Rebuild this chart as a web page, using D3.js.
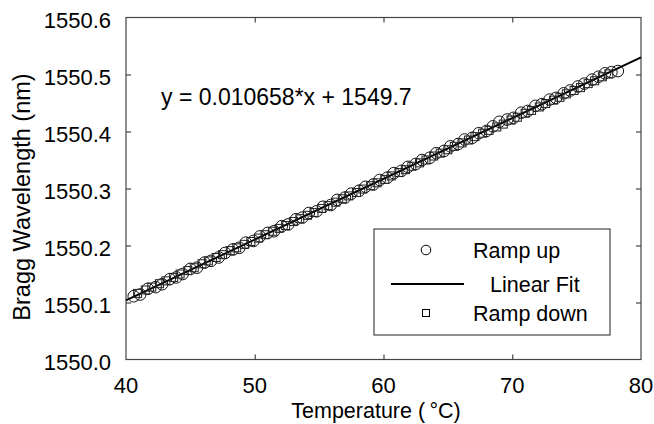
<!DOCTYPE html>
<html>
<head>
<meta charset="utf-8">
<script src="https://cdn.jsdelivr.net/npm/d3@7"></script>
<style>
  body { margin: 0; background: #fff; }
  svg { font-family: "Liberation Sans", Arial, sans-serif; }
</style>
</head>
<body>
<div id="chart"></div>
<script>
// Ramp up (circles)
var upTemp = [40.6, 41.1, 41.7, 42.3, 42.8, 43.4, 43.9, 44.4, 45.0, 45.5, 46.1, 46.6, 47.2, 47.7, 48.3, 48.8,
  49.3, 49.9, 50.4, 51.0, 51.5, 52.1, 52.6, 53.2, 53.7, 54.2, 54.8, 55.3, 55.9, 56.4, 57.0, 57.5, 58.1, 58.6,
  59.2, 59.7, 60.3, 60.8, 61.4, 61.9, 62.5, 63.0, 63.6, 64.1, 64.7, 65.2, 65.8, 66.3, 66.9, 67.4, 68.0, 68.5,
  69.0, 69.6, 70.1, 70.7, 71.2, 71.8, 72.3, 72.9, 73.4, 74.0, 74.5, 75.1, 75.6, 76.2, 76.7, 77.2, 77.7, 78.2];
var upWave = [1550.111, 1550.114, 1550.124, 1550.127, 1550.132, 1550.141, 1550.144, 1550.150, 1550.159, 1550.161,
  1550.170, 1550.173, 1550.179, 1550.187, 1550.193, 1550.196, 1550.205, 1550.208, 1550.216, 1550.222, 1550.225,
  1550.234, 1550.237, 1550.246, 1550.249, 1550.257, 1550.260, 1550.268, 1550.271, 1550.280, 1550.284, 1550.291,
  1550.296, 1550.303, 1550.307, 1550.315, 1550.319, 1550.327, 1550.331, 1550.338, 1550.343, 1550.350, 1550.354,
  1550.362, 1550.366, 1550.374, 1550.378, 1550.386, 1550.389, 1550.397, 1550.401, 1550.409, 1550.417, 1550.421,
  1550.424, 1550.433, 1550.436, 1550.445, 1550.448, 1550.456, 1550.459, 1550.467, 1550.472, 1550.479, 1550.484,
  1550.491, 1550.496, 1550.502, 1550.504, 1550.506];

// Ramp down (squares)
var downTemp = [40.9, 41.5, 42.0, 42.6, 43.1, 43.7, 44.2, 44.8, 45.3, 45.9, 46.4, 47.0, 47.5, 48.1, 48.6, 49.2,
  49.7, 50.3, 50.8, 51.4, 51.9, 52.4, 53.0, 53.5, 54.1, 54.6, 55.2, 55.7, 56.3, 56.8, 57.3, 57.9, 58.4, 59.0,
  59.5, 60.1, 60.6, 61.2, 61.7, 62.2, 62.8, 63.3, 63.9, 64.4, 65.0, 65.5, 66.1, 66.6, 67.1, 67.7, 68.2, 68.8,
  69.3, 69.9, 70.4, 71.0, 71.5, 72.1, 72.6, 73.2, 73.7, 74.2, 74.8, 75.3, 75.9, 76.4, 77.0, 77.5];
var downWave = [1550.116, 1550.122, 1550.127, 1550.133, 1550.138, 1550.144, 1550.150, 1550.156, 1550.161, 1550.168,
  1550.173, 1550.179, 1550.184, 1550.191, 1550.196, 1550.202, 1550.207, 1550.213, 1550.219, 1550.225, 1550.230,
  1550.235, 1550.242, 1550.247, 1550.253, 1550.258, 1550.265, 1550.270, 1550.276, 1550.282, 1550.287, 1550.293,
  1550.299, 1550.305, 1550.310, 1550.316, 1550.322, 1550.328, 1550.333, 1550.339, 1550.345, 1550.350, 1550.357,
  1550.362, 1550.368, 1550.374, 1550.380, 1550.385, 1550.391, 1550.397, 1550.402, 1550.408, 1550.413, 1550.420,
  1550.425, 1550.432, 1550.437, 1550.443, 1550.449, 1550.455, 1550.460, 1550.466, 1550.472, 1550.477, 1550.484,
  1550.489, 1550.496, 1550.501];

// Linear fit
var fitSlope = 0.010658;
var fitIntercept = 1549.6775;
var fitRange = [40, 80];

var xTicks = [40, 50, 60, 70, 80];
var yTicks = [1550.0, 1550.1, 1550.2, 1550.3, 1550.4, 1550.5, 1550.6];
var legendLabels = ["Ramp up", "Linear Fit", "Ramp down"];

var w = 654, h = 424;
var margin = { top: 17.5, bottom: 64.5, left: 126, right: 13 };

var svg = d3.select("#chart").append("svg")
  .attr("width", w)
  .attr("height", h);

var x = d3.scaleLinear().domain([40, 80]).range([margin.left, w - margin.right]);
var y = d3.scaleLinear().domain([1550.0, 1550.6]).range([h - margin.bottom, margin.top]);

var axisColor = "#444";

// frame
svg.append("rect")
  .attr("x", x(40)).attr("y", y(1550.6))
  .attr("width", x(80) - x(40)).attr("height", y(1550.0) - y(1550.6))
  .attr("fill", "none").attr("stroke", axisColor).attr("stroke-width", 1.2);

// inward ticks on all four sides
function styleAxis(g) {
  g.select(".domain").remove();
  g.selectAll(".tick line").attr("stroke", axisColor).attr("stroke-width", 1.2);
  g.selectAll("text").remove();
}
svg.append("g").attr("transform", "translate(0," + y(1550.0) + ")")
  .call(d3.axisTop(x).tickValues(xTicks.slice(1, -1)).tickSize(5)).call(styleAxis);
svg.append("g").attr("transform", "translate(0," + y(1550.6) + ")")
  .call(d3.axisBottom(x).tickValues(xTicks.slice(1, -1)).tickSize(5)).call(styleAxis);
svg.append("g").attr("transform", "translate(" + x(40) + ",0)")
  .call(d3.axisRight(y).tickValues(yTicks.slice(1, -1)).tickSize(5)).call(styleAxis);
svg.append("g").attr("transform", "translate(" + x(80) + ",0)")
  .call(d3.axisLeft(y).tickValues(yTicks.slice(1, -1)).tickSize(5)).call(styleAxis);

// tick labels
svg.selectAll(".xlab").data(xTicks).enter().append("text")
  .attr("x", function(d) { return x(d); })
  .attr("y", y(1550.0) + 33)
  .attr("text-anchor", "middle")
  .style("font-size", "22px")
  .text(function(d) { return d; });

svg.selectAll(".ylab").data(yTicks).enter().append("text")
  .attr("x", x(40) - 15)
  .attr("y", function(d) { return y(d) + 10.5; })
  .attr("text-anchor", "end")
  .style("font-size", "22px")
  .text(function(d) { return d.toFixed(1); });

// axis titles
svg.append("text")
  .attr("x", 376)
  .attr("y", 418)
  .attr("text-anchor", "middle")
  .style("font-size", "21.5px")
  .text("Temperature (\u2009\u00B0C)");

svg.append("text")
  .attr("transform", "translate(30,197) rotate(-90)")
  .attr("text-anchor", "middle")
  .style("font-size", "23.5px")
  .text("Bragg Wavelength (nm)");

// equation
svg.append("text")
  .attr("x", 161)
  .attr("y", 105)
  .style("font-size", "23px")
  .text("y = " + fitSlope + "*x + 1549.7");

// fit line
var line = d3.line()
  .x(function(d) { return x(d); })
  .y(function(d) { return y(fitSlope * d + fitIntercept); });
svg.append("path")
  .datum(fitRange)
  .attr("fill", "none")
  .attr("stroke", "#000")
  .attr("stroke-width", 2)
  .attr("d", line);

// ramp up circles
svg.selectAll(".up").data(upTemp).enter().append("circle")
  .attr("cx", function(d) { return x(d); })
  .attr("cy", function(d, i) { return y(upWave[i]); })
  .attr("r", 5.8)
  .attr("fill", "none")
  .attr("stroke", "#111")
  .attr("stroke-width", 1);

// ramp down squares
var sq = 8;
svg.selectAll(".down").data(downTemp).enter().append("rect")
  .attr("x", function(d) { return x(d) - sq / 2; })
  .attr("y", function(d, i) { return y(downWave[i]) - sq / 2; })
  .attr("width", sq).attr("height", sq)
  .attr("fill", "none")
  .attr("stroke", "#222")
  .attr("stroke-width", 1);

// legend
var lg = svg.append("g").attr("transform", "translate(374,229)");
lg.append("rect")
  .attr("width", 236).attr("height", 106)
  .attr("fill", "#fff").attr("stroke", axisColor).attr("stroke-width", 1.2);
lg.append("circle").attr("cx", 52).attr("cy", 21).attr("r", 4.8)
  .attr("fill", "none").attr("stroke", "#000").attr("stroke-width", 1);
lg.append("line").attr("x1", 17).attr("x2", 90).attr("y1", 55).attr("y2", 55)
  .attr("stroke", "#000").attr("stroke-width", 2);
lg.append("rect").attr("x", 48.5).attr("y", 80.5).attr("width", 7).attr("height", 7)
  .attr("fill", "none").attr("stroke", "#000").attr("stroke-width", 1);
lg.selectAll(".lt").data(legendLabels).enter().append("text")
  .attr("x", function(d, i) { return i === 1 ? 116 : 99; })
  .attr("y", function(d, i) { return [29, 63, 92][i]; })
  .style("font-size", "21.5px")
  .text(function(d) { return d; });
</script>
</body>
</html>
